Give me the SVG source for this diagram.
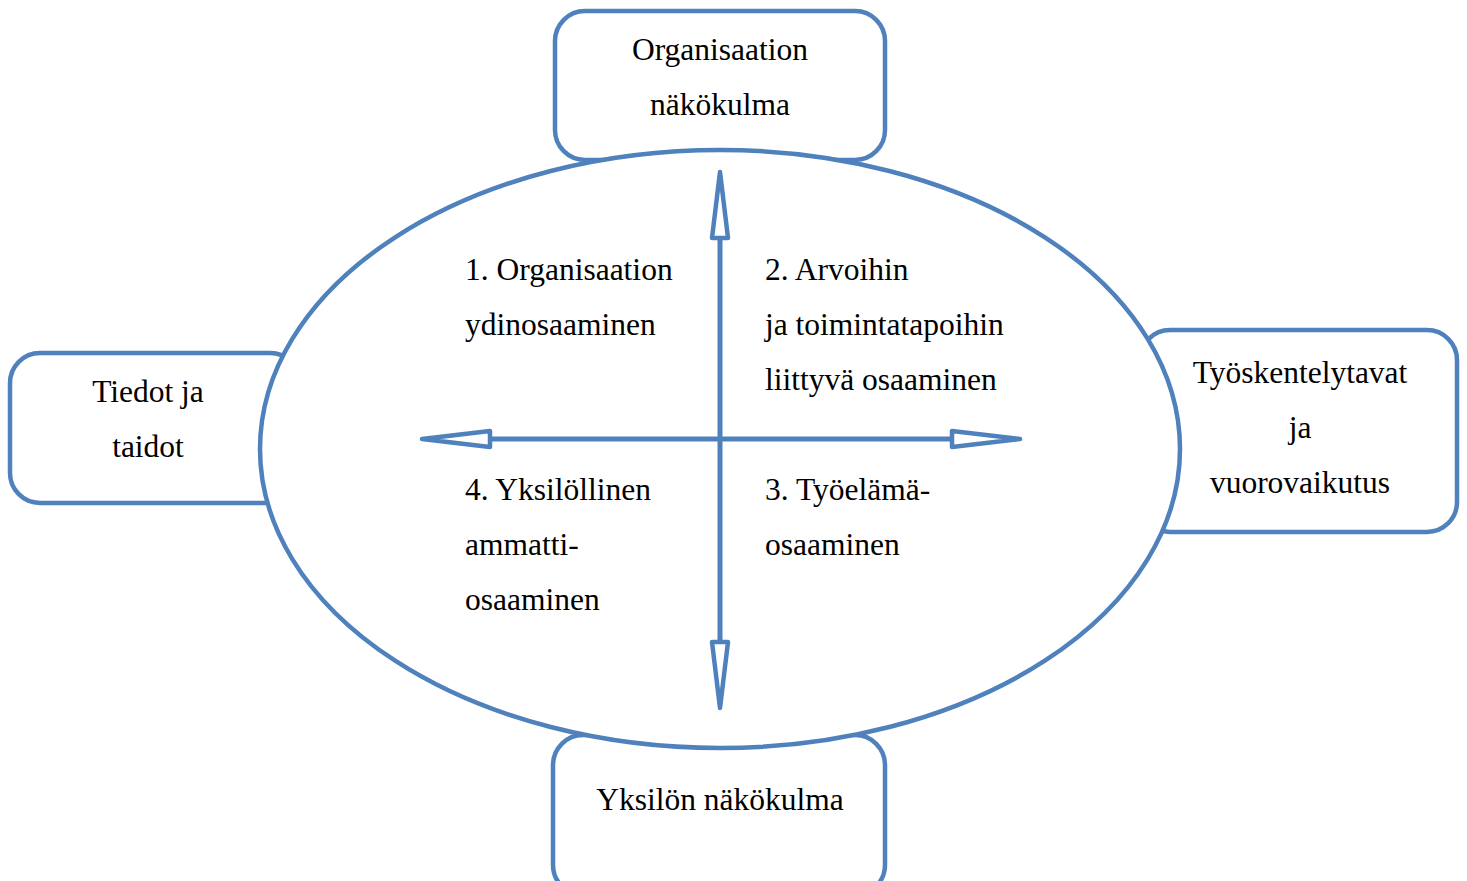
<svg xmlns="http://www.w3.org/2000/svg" width="1467" height="881" viewBox="0 0 1467 881">
<style>
.box{fill:#fff;stroke:#4F81BD;stroke-width:4.5}
.ell{fill:#fff;stroke:#4F81BD;stroke-width:4.5}
.ln{stroke:#4F81BD;stroke-width:5;fill:none}
.hd{fill:#fff;stroke:#4F81BD;stroke-width:4.5;stroke-linejoin:round}
text{font-family:"Liberation Serif","Times New Roman",serif;font-size:31.5px;fill:#000}
.c{text-anchor:middle}
</style>
<rect width="1467" height="881" fill="#fff"/>
<g id="top"><rect class="box" x="555" y="11" width="330" height="149" rx="30"/>
<text class="c" x="720" y="60">Organisaation</text><text class="c" x="720" y="115">näkökulma</text></g>
<g id="left"><rect class="box" x="10" y="353" width="290" height="150" rx="30"/>
<text class="c" x="148" y="402">Tiedot ja</text><text class="c" x="148" y="457">taidot</text></g>
<g id="right"><rect class="box" x="1140" y="330" width="317" height="202" rx="30"/>
<text class="c" x="1300" y="383">Työskentelytavat</text><text class="c" x="1300" y="438">ja</text><text class="c" x="1300" y="493">vuorovaikutus</text></g>
<g id="bottom"><rect class="box" x="553" y="735" width="332" height="160" rx="30"/>
<text class="c" x="720" y="810">Yksilön näkökulma</text></g>
<g id="center"><ellipse class="ell" cx="720" cy="449" rx="460" ry="299"/>
<text x="465" y="280">1. Organisaation</text><text x="465" y="335">ydinosaaminen</text>
<text x="765" y="280">2. Arvoihin</text><text x="765" y="335">ja toimintatapoihin</text><text x="765" y="390">liittyvä osaaminen</text>
<text x="465" y="500">4. Yksilöllinen</text><text x="465" y="555">ammatti-</text><text x="465" y="610">osaaminen</text>
<text x="765" y="500">3. Työelämä-</text><text x="765" y="555">osaaminen</text></g>
<g id="connectors">
<line class="ln" x1="720" y1="238" x2="720" y2="642"/>
<line class="ln" x1="490" y1="439" x2="952" y2="439"/>
<polygon class="hd" points="720,172 728,238 712,238"/>
<polygon class="hd" points="720,708 728,642 712,642"/>
<polygon class="hd" points="422,439 490,431 490,447"/>
<polygon class="hd" points="1020,439 952,431 952,447"/>
</g>
</svg>
